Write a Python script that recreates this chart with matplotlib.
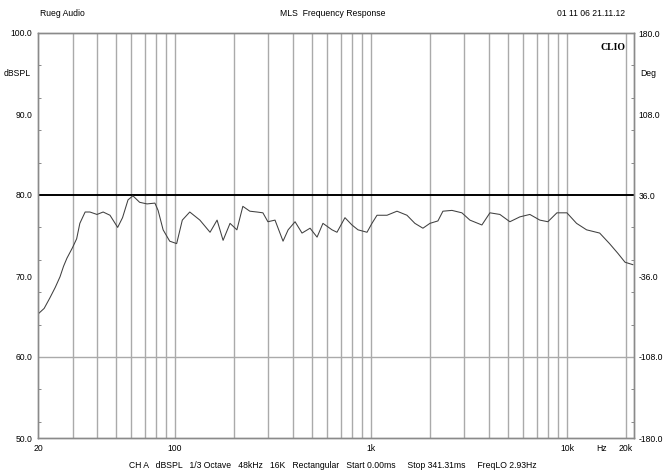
import numpy as np
import matplotlib
matplotlib.use('Agg')
import matplotlib.pyplot as plt
from matplotlib.ticker import FixedLocator, NullFormatter

# frequency response (Hz, dBSPL)
freq = [20, 21.5, 23, 24.5, 25.9, 27, 28.1, 30, 31.5, 32.7, 34.8, 36.8, 40, 43, 46.6,
        51, 54, 57.6, 61, 66, 72, 79, 82, 87, 94, 102, 109, 119, 134, 151, 164,
        176, 191, 207, 222, 241, 262, 281, 298, 324, 356, 378, 410, 445, 489, 531,
        569, 633, 671, 737, 800, 859, 955, 1012, 1074, 1208, 1358, 1527, 1676,
        1842, 2000, 2197, 2330, 2590, 2911, 3199, 3683, 4048, 4550, 5117, 5754,
        6471, 7277, 7998, 8893, 10000, 11200, 12600, 14700, 16500, 18200, 19800,
        21700]
spl = [65.3, 66.0, 67.3, 68.6, 69.9, 71.2, 72.2, 73.5, 74.6, 76.5, 77.9, 77.9, 77.6,
       77.9, 77.5, 76.0, 77.2, 79.4, 79.9, 79.1, 78.9, 79.0, 78.1, 75.7, 74.3,
       74.0, 76.9, 77.9, 76.9, 75.4, 76.9, 74.4, 76.5, 75.7, 78.6, 78.0, 77.9,
       77.8, 76.7, 76.9, 74.3, 75.7, 76.7, 75.3, 75.9, 74.8, 76.5, 75.7, 75.4,
       77.2, 76.3, 75.7, 75.4, 76.5, 77.5, 77.5, 78.0, 77.5, 76.5, 75.9, 76.5,
       76.8, 78.0, 78.1, 77.8, 76.9, 76.3, 77.8, 77.6, 76.7, 77.3, 77.6, 76.9,
       76.7, 77.8, 77.8, 76.5, 75.7, 75.3, 74.0, 72.8, 71.7, 71.4]

grid_freqs = [30, 40, 50, 60, 70, 80, 90, 100, 200, 300, 400, 500, 600, 700, 800,
              900, 1000, 2000, 3000, 4000, 5000, 6000, 7000, 8000, 9000, 10000, 20000]
xtick_pos = [20, 100, 1000, 10000, 15000, 20000]
xtick_lab = ['20', '100', '1k', '10k', 'Hz', '20k']
ytick_pos = [50, 60, 70, 80, 90, 100]
ytick_lab = ['50.0', '60.0', '70.0', '80.0', '90.0', '100.0']
deg_lab = ['-180.0', '-108.0', '-36.0', '36.0', '108.0', '180.0']

plt.rcParams['font.family'] = ['Liberation Sans', 'DejaVu Sans']
fs = 6.2

fig = plt.figure(figsize=(6.66, 4.74), dpi=100)
ax = fig.add_axes([38 / 666, 36 / 474, 596 / 666, 405 / 474])
ax.set_xscale('log')
ax.set_xlim(20, 22000)
ax.set_ylim(50, 100)

for f in grid_freqs:
    ax.axvline(f, color='#aaaaaa', lw=1.0, zorder=1)
ax.axhline(60, color='#aaaaaa', lw=1.0, zorder=1)
ax.axhline(80, color='black', lw=1.4, zorder=2)

ax.plot(freq, spl, color='#404040', lw=0.75, zorder=3)

ax.xaxis.set_major_locator(FixedLocator(xtick_pos))
ax.set_xticklabels(xtick_lab)
ax.xaxis.set_minor_locator(FixedLocator([]))
ax.xaxis.set_minor_formatter(NullFormatter())
ax.tick_params(axis='x', length=0, labelsize=fs, pad=4)

ax.set_yticks(ytick_pos)
ax.set_yticklabels(ytick_lab)
ax.yaxis.set_minor_locator(FixedLocator(np.arange(52, 100, 4)))
ax.tick_params(axis='y', which='major', length=0, labelsize=fs, pad=4)
ax.tick_params(axis='y', which='minor', direction='in', length=2, color='#777777')

ax2 = ax.twinx()
ax2.set_ylim(50, 100)
ax2.set_yticks(ytick_pos)
ax2.set_yticklabels(deg_lab)
ax2.yaxis.set_minor_locator(FixedLocator(np.arange(52, 100, 4)))
ax2.tick_params(axis='y', which='major', length=0, labelsize=fs, pad=3)
ax2.tick_params(axis='y', which='minor', direction='in', length=2, color='#777777')

for a in (ax, ax2):
    for s in a.spines.values():
        s.set_color('#8a8a8a')
        s.set_linewidth(1.0)

fig.text(4 / 666, 1 - 73 / 474, 'dBSPL', fontsize=fs, va='center', ha='left')
fig.text(640 / 666, 1 - 73 / 474, 'Deg', fontsize=fs, va='center', ha='left')
ax.text(0.985, 0.975, 'CLIO', transform=ax.transAxes, ha='right', va='top',
        fontsize=7, fontweight='bold', family='Liberation Serif')

fig.text(40 / 666, 1 - 14 / 474, 'Rueg Audio', fontsize=fs, va='center', ha='left')
fig.text(333 / 666, 1 - 14 / 474, 'MLS  Frequency Response', fontsize=fs, va='center', ha='center')
fig.text(625 / 666, 1 - 14 / 474, '01 11 06 21.11.12', fontsize=fs, va='center', ha='right')
fig.text(333 / 666, 1 - 466 / 474,
         'CH A   dBSPL   1/3 Octave   48kHz   16K   Rectangular   Start 0.00ms     Stop 341.31ms     FreqLO 2.93Hz',
         fontsize=fs, va='center', ha='center')

fig.savefig('out.png', dpi=100)
